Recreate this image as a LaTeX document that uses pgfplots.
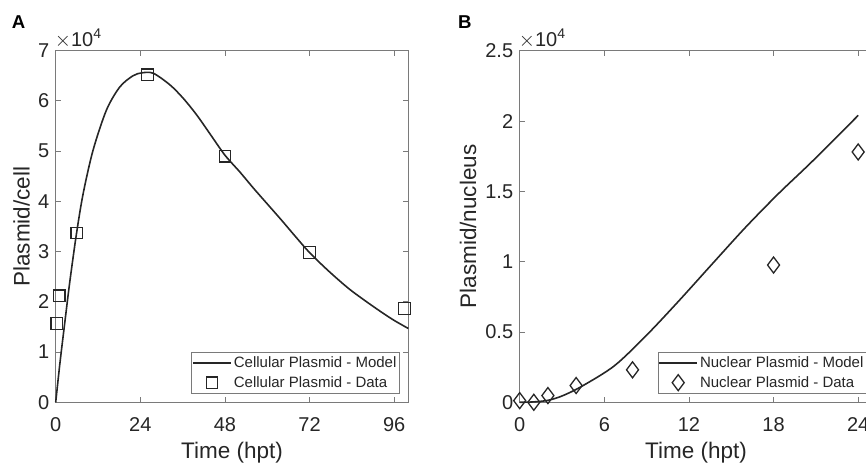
\documentclass[border=0pt]{standalone}
\usepackage{fontspec}
\setmainfont{Liberation Sans}
\usepackage{pgfplots}
\pgfplotsset{compat=1.18}

\definecolor{ink}{HTML}{262626}
\definecolor{frame}{HTML}{7A7A7A}

\pgfplotsset{
  panel/.style={
    scale only axis,
    width=352.6pt, height=351.6pt,
    clip=false,
    axis line style={frame, line width=0.9pt},
    tick style={frame, line width=0.9pt},
    major tick length=5pt,
    tick align=inside,
    ticklabel style={font=\fontsize{20}{24}\selectfont, text=ink},
    xticklabel style={yshift=-12pt},
    yticklabel style={xshift=-3pt},
    xlabel style={font=\fontsize{22.5}{27}\selectfont, text=ink,
      at={(rel axis cs:0.5,0)}, anchor=base, yshift=-55.7pt},
    ylabel style={font=\fontsize{22.5}{27}\selectfont, text=ink,
      at={(rel axis cs:0,0.5)}, anchor=base},
    /pgf/number format/assume math mode=true,
    scaled y ticks=base 10:-4,
    ytick scale label code/.code={$\times$10\textsuperscript{##1}},
    every y tick scale label/.style={at={(rel axis cs:0,1)}, anchor=base west,
      xshift=2pt, yshift=4.7pt, inner sep=0pt,
      font=\fontsize{20}{24}\selectfont, text=ink},
    legend style={at={(rel axis cs:1,0)}, anchor=south east,
      xshift=-9pt, yshift=9pt, draw=frame, line width=0.7pt, fill=white,
      font=\fontsize{15}{18}\selectfont, text=ink, inner sep=0.5pt,
      nodes={inner xsep=2pt, inner ysep=3.6pt}},
    legend cell align=left,
  },
  model/.style={ink, line width=1.6pt, smooth, mark=none,
    legend image code/.code={\draw[##1, line width=1.7pt] (0pt,0pt) -- (38pt,0pt);}},
  data/.style={only marks, mark options={ink, line width=1.3pt, fill=none},
    legend image code/.code={\path (0pt,0pt) (38pt,0pt);
      \draw[##1] plot coordinates {(19pt,0pt)};}},
}

\begin{document}
\begin{tikzpicture}
\path[use as bounding box] (0pt,0pt) rectangle (866pt,467pt);

% A: cellular plasmid
\begin{axis}[panel,
  at={(55.7pt,64.7pt)}, anchor=south west,
  xmin=0, xmax=100, ymin=0, ymax=70000,
  xtick={0,24,48,72,96},
  ytick={0,10000,20000,30000,40000,50000,60000,70000},
  xlabel={Time (hpt)}, ylabel={Plasmid/cell},
  ylabel style={yshift=26.2pt},
]
\addplot[model] coordinates {
  (0,0) (1.2,7800) (2.6,16000) (4.0,24000) (5.9,33600) (7.8,41600)
  (10.6,50200) (14.4,58200) (18.2,62800) (21.9,65000) (24.5,65600)
  (27.7,65500) (32.4,63200) (36.2,60500) (40,57200) (43.8,53400)
  (48,49200) (52.3,45800) (56,42700) (60,39500) (64,36300) (68,33000)
  (72,29800) (77.3,26200) (83,22700) (88,20100) (92.5,17900)
  (96,16300) (100,14700)
};
\addlegendentry{Cellular Plasmid - Model}
\addplot[data, mark=square, mark size=5.8pt] coordinates {
  (0.28,15700) (1.0,21200) (5.95,33700) (26,65200) (48,49000)
  (72,29800) (98.9,18700)
};
\addlegendentry{Cellular Plasmid - Data}
\end{axis}

% B: nuclear plasmid
\begin{axis}[panel,
  at={(519.7pt,64.7pt)}, anchor=south west,
  xmin=0, xmax=25, ymin=0, ymax=25000,
  xtick={0,6,12,18,24},
  ytick={0,5000,10000,15000,20000,25000},
  xlabel={Time (hpt)}, ylabel={Plasmid/nucleus},
  ylabel style={yshift=43.7pt},
  legend style={xshift=3pt},
]
\addplot[model] coordinates {
  (0,0) (1,30) (2,140) (3,450) (4.37,1120) (6.73,2610) (9.08,4860)
  (11.3,7230) (13.66,9850) (16.02,12450) (18.37,14860) (20.72,17110)
  (24,20400)
};
\addlegendentry{Nuclear Plasmid - Model}
\addplot[data, mark=diamond, mark size=8pt] coordinates {
  (0,120) (1,0) (2,480) (4,1190) (8,2310) (18,9760) (24,17800)
};
\addlegendentry{Nuclear Plasmid - Data}
\end{axis}

\node[font=\bfseries\fontsize{18.6}{20}\selectfont, anchor=base west, inner sep=0pt]
  at (11.7pt,438.7pt) {A};
\node[font=\bfseries\fontsize{18.6}{20}\selectfont, anchor=base west, inner sep=0pt]
  at (458pt,438.7pt) {B};
\end{tikzpicture}
\end{document}
